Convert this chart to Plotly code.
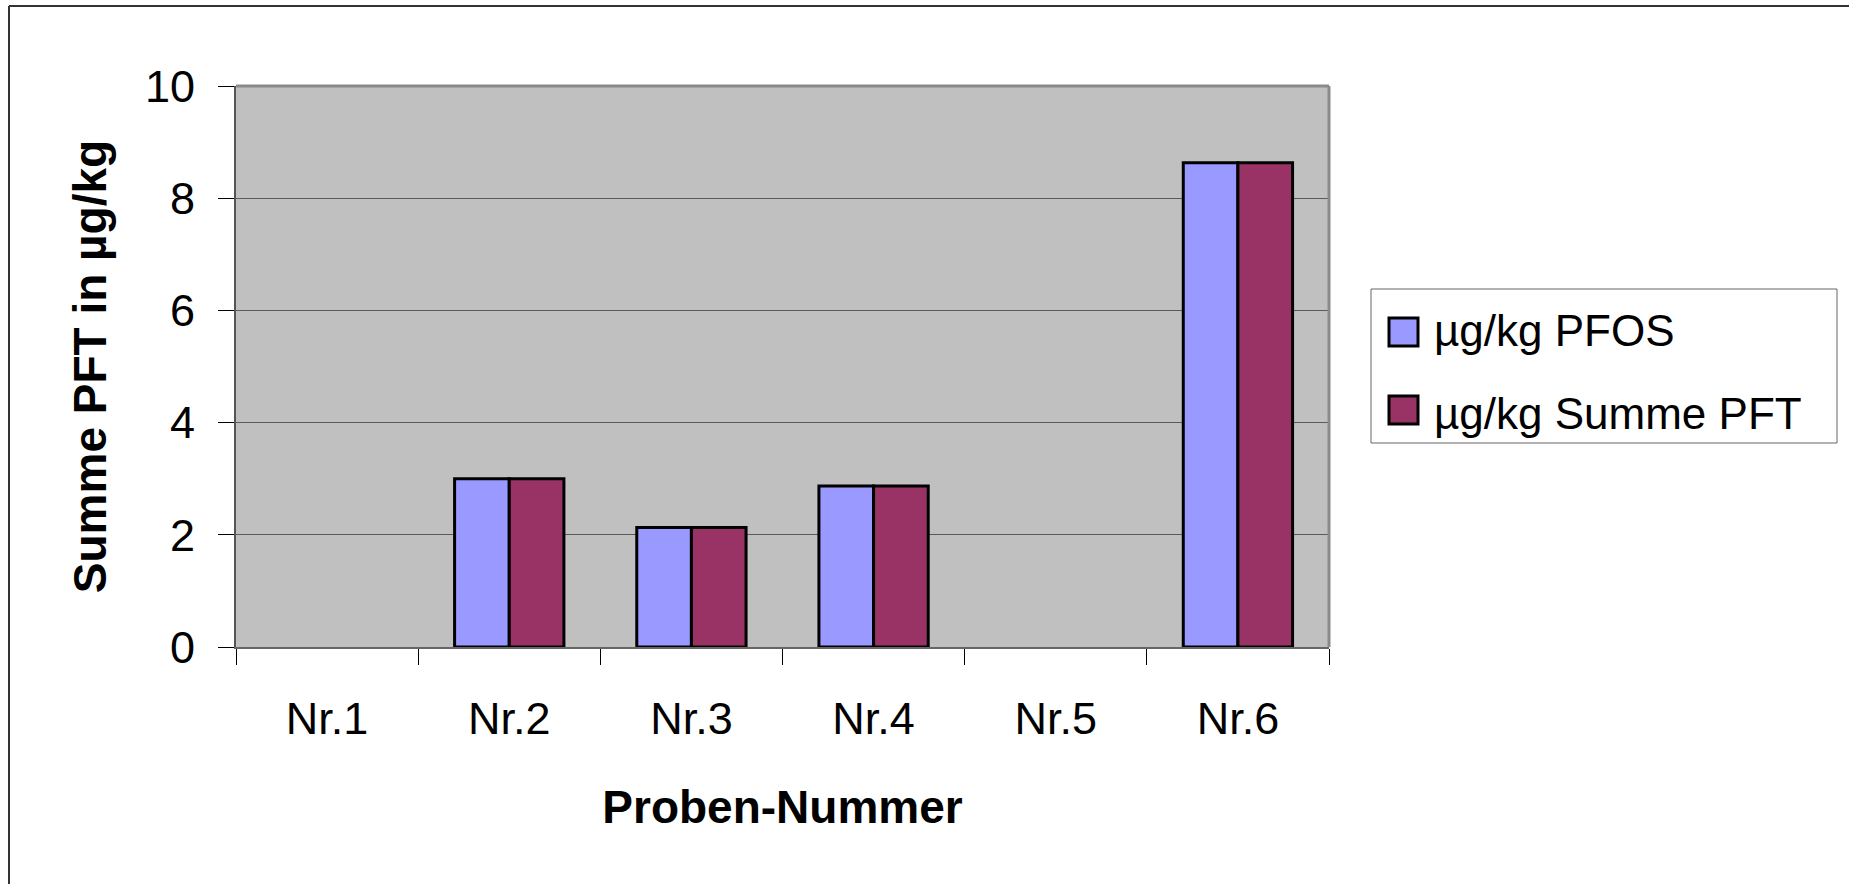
import plotly.graph_objects as go

categories = ["Nr.1", "Nr.2", "Nr.3", "Nr.4", "Nr.5", "Nr.6"]
pfos = [None, 3.0, 2.13, 2.87, None, 8.63]
summe_pft = [None, 3.0, 2.13, 2.87, None, 8.63]
series_names = ["µg/kg PFOS", "µg/kg Summe PFT"]
series_colors = ["#9999FF", "#993366"]
y_ticks = [0, 2, 4, 6, 8, 10]

W, H = 1849, 884
ML, MR, MT, MB = 236, 520, 86, 237
PW, PH = W - ML - MR, H - MT - MB

def px_x(p):
    return (p - ML) / PW

def px_y(p):
    return (H - MB - p) / PH

FONT = "Arial, Liberation Sans, sans-serif"

fig = go.Figure()
for name, vals, col in zip(series_names, [pfos, summe_pft], series_colors):
    fig.add_trace(go.Bar(
        x=categories, y=vals, name=name, showlegend=False,
        marker=dict(color=col, line=dict(color="black", width=3)),
    ))
# legend entries (swatches drawn as shapes at legend positions)
for i, (name, col) in enumerate(zip(series_names, series_colors)):
    fig.add_trace(go.Scatter(
        x=[None], y=[None], mode="markers", name=name, legendgroup=f"g{i}",
        marker=dict(symbol="square", size=1, color="rgba(0,0,0,0)",
                    line=dict(color="rgba(0,0,0,0)", width=0)),
    ))

swatch_shapes = []
for col, cy in zip(series_colors, [332, 410]):
    swatch_shapes.append(dict(
        type="rect", xref="paper", yref="paper",
        x0=px_x(1389), x1=px_x(1418), y0=px_y(cy + 14), y1=px_y(cy - 14),
        line=dict(color="black", width=3), fillcolor=col))

fig.update_layout(
    width=W, height=H,
    margin=dict(l=ML, r=MR, t=MT, b=MB, autoexpand=False),
    paper_bgcolor="white", plot_bgcolor="#C0C0C0",
    barmode="group", bargap=0.4, bargroupgap=0,
    font=dict(family=FONT, size=45, color="black"),
    legend=dict(
        x=px_x(1394), y=px_y(294), xanchor="left", yanchor="top",
        bgcolor="rgba(0,0,0,0)", borderwidth=0,
        font=dict(family=FONT, size=44, color="black"),
        tracegroupgap=23,
    ),
    xaxis=dict(
        showline=True, linecolor="#666666", linewidth=2, mirror=False,
        ticks="outside", tickson="boundaries", ticklen=16, tickcolor="black", tickwidth=1,
        showgrid=False, tickfont=dict(size=45), ticklabelstandoff=31,
        title=dict(text="<b>Proben-Nummer</b>", font=dict(size=46), standoff=48),
    ),
    yaxis=dict(
        range=[0, 10], tickvals=y_ticks,
        showline=True, linecolor="#555555", linewidth=2,
        ticks="outside", ticklen=16, tickcolor="black", tickwidth=1,
        showgrid=True, gridcolor="#5a5a5a", gridwidth=1, zeroline=False,
        tickfont=dict(size=45), ticklabelstandoff=14,
        title=dict(text="<b>Summe PFT in µg/kg</b>", font=dict(size=46), standoff=24),
    ),
    shapes=[
        # plot area top/right border
        dict(type="line", xref="paper", yref="paper", x0=0, x1=1, y0=1, y1=1,
             line=dict(color="#8a8a8a", width=3)),
        dict(type="line", xref="paper", yref="paper", x0=1, x1=1, y0=0, y1=1,
             line=dict(color="#8a8a8a", width=3)),
        # legend box
        dict(type="rect", xref="paper", yref="paper",
             x0=px_x(1371), x1=px_x(1837), y0=px_y(443), y1=px_y(289),
             line=dict(color="#666666", width=1), fillcolor="rgba(0,0,0,0)"),
        # outer chart border (top & left visible)
        dict(type="line", xref="paper", yref="paper",
             x0=px_x(9), x1=px_x(W + 5), y0=px_y(6), y1=px_y(6),
             line=dict(color="#333333", width=2)),
        dict(type="line", xref="paper", yref="paper",
             x0=px_x(9), x1=px_x(9), y0=px_y(6), y1=px_y(H + 5),
             line=dict(color="#333333", width=2)),
    ] + swatch_shapes,
)

fig.write_html("out.html", config={"displayModeBar": False},
               post_script="document.body.style.margin='0';document.body.style.overflow='hidden';")
